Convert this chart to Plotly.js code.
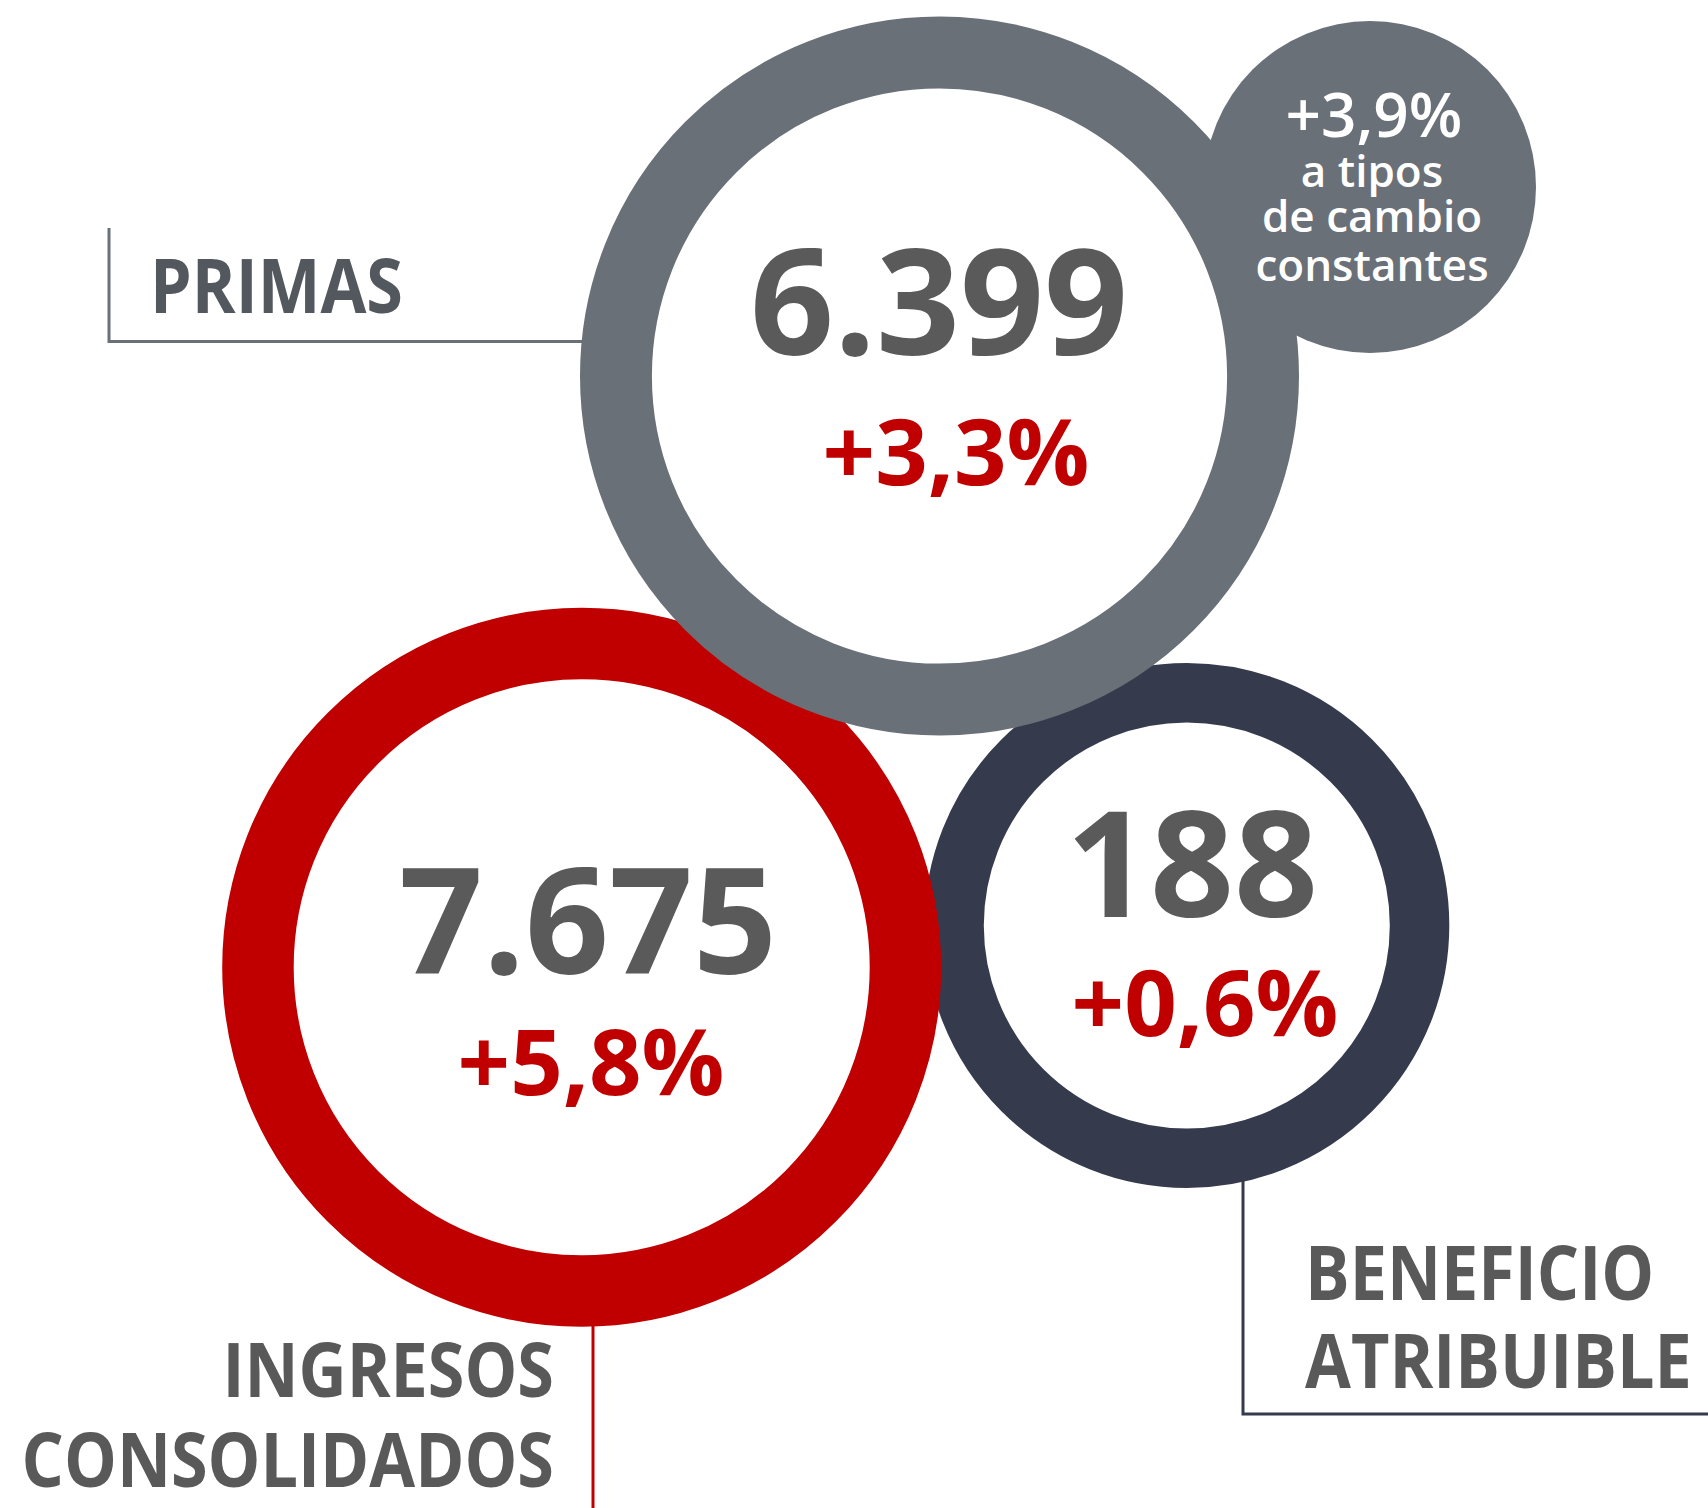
<!DOCTYPE html>
<html>
<head>
<meta charset="utf-8">
<script src="https://cdn.plot.ly/plotly-3.0.1.min.js"></script>
<style>
  html, body { margin: 0; padding: 0; background: #ffffff; overflow: hidden; }
  #chart { width: 1708px; height: 1508px; }
</style>
</head>
<body>
<div id="chart"></div>
<script>
// ---------------- DATA (millones de euros) ----------------
const categories = ['PRIMAS', 'INGRESOS CONSOLIDADOS', 'BENEFICIO ATRIBUIBLE'];
const values = [6399, 7675, 188];
const changes = [3.3, 5.8, 0.6];
const constantFxChange = 3.9;
const constantFxNote = ['a tipos', 'de cambio', 'constantes'];

// ---------------- DESIGN (layout of the infographic) ----------------
const W = 1708, H = 1508;
const COL_GREY = '#6a7078', COL_RED = '#c00000', COL_NAVY = '#353a4d';
const TXT_GREY = '#5a5a5a';
const LABEL_FONT = 'Open Sans, sans-serif';
const LABEL_CONDENSE = 0.875;
const NUM_FONT = 'Open Sans, sans-serif';

const design = [
  { // PRIMAS
    ring: {cx: 939.5, cy: 376, ro: 359.5, ri: 287.6, color: COL_GREY},
    value: {x: 939, base: 355},
    change: {x: 956, base: 485},
    label: {pos: 'middle right', x: 150, bases: [313], color: '#53575e'},
    leader: {path: [[109, 228], [109, 341.5], [640, 341.5]], color: COL_GREY}
  },
  { // INGRESOS CONSOLIDADOS
    ring: {cx: 581.7, cy: 967.3, ro: 359.5, ri: 288, color: COL_RED},
    value: {x: 588, base: 974},
    change: {x: 591, base: 1095},
    label: {pos: 'middle left', x: 554, bases: [1397, 1487], color: '#595959'},
    leader: {path: [[593, 1290], [593, 1510]], color: COL_RED}
  },
  { // BENEFICIO ATRIBUIBLE
    ring: {cx: 1186.8, cy: 925.4, ro: 262.5, ri: 203, color: COL_NAVY},
    value: {x: 1192, base: 917},
    change: {x: 1205, base: 1036},
    label: {pos: 'middle right', x: 1305, bases: [1300, 1388], color: '#595959'},
    leader: {path: [[1243, 1150], [1243, 1414], [1712, 1414]], color: COL_NAVY}
  }
];
const bubble = {cx: 1370, cy: 187, r: 166, color: COL_GREY};
const ringOrder = [2, 1, 0]; // navy below, red, grey on top

// ---------------- helpers ----------------
function fmtInt(v) { return String(v).replace(/\B(?=(\d{3})+(?!\d))/g, '.'); }
function fmtPct(v) { return (v >= 0 ? '+' : '') + v.toFixed(1).replace('.', ',') + '%'; }
// scatter 'middle' text: baseline sits 0.25*fontsize below the point
function yFromBase(base, fs) { return base - 0.25 * fs; }

function textTrace(xs, ys, texts, fs, color, family, weight, pos) {
  return {
    type: 'scatter', mode: 'text', x: xs, y: ys, text: texts,
    textposition: pos, cliponaxis: false, hoverinfo: 'skip', showlegend: false,
    textfont: {family: family, size: fs, color: color, weight: weight}
  };
}

// ---------------- shapes ----------------
const shapes = [];
function pathStr(pts) { return pts.map((p, i) => (i ? 'L' : 'M') + p[0] + ',' + p[1]).join(' '); }

design.forEach(d => shapes.push({
  type: 'path', xref: 'x', yref: 'y', layer: 'below', path: pathStr(d.leader.path),
  line: {color: d.leader.color, width: 3}, fillcolor: 'rgba(0,0,0,0)'
}));
ringOrder.forEach(i => {
  const r = design[i].ring;
  const rm = (r.ro + r.ri) / 2;
  if (i === 0) {
    shapes.push({type: 'circle', xref: 'x', yref: 'y', layer: 'below',
      x0: bubble.cx - bubble.r, x1: bubble.cx + bubble.r,
      y0: bubble.cy - bubble.r, y1: bubble.cy + bubble.r,
      fillcolor: bubble.color, line: {width: 0}});
  }
  shapes.push({type: 'circle', xref: 'x', yref: 'y', layer: 'below',
    x0: r.cx - rm, x1: r.cx + rm, y0: r.cy - rm, y1: r.cy + rm,
    fillcolor: 'rgba(0,0,0,0)', line: {color: r.color, width: r.ro - r.ri}});
});

// ---------------- text traces ----------------
const traces = [];
const FS_VAL = 147, FS_CHG = 92, FS_LAB = 76;

traces.push(textTrace(design.map(d => d.value.x), design.map(d => yFromBase(d.value.base, FS_VAL)),
  values.map(fmtInt), FS_VAL, TXT_GREY, NUM_FONT, 700, 'middle center'));
traces.push(textTrace(design.map(d => d.change.x), design.map(d => yFromBase(d.change.base, FS_CHG)),
  changes.map(fmtPct), FS_CHG, COL_RED, NUM_FONT, 700, 'middle center'));

const labelTraceIdx = [];
categories.forEach((c, i) => {
  const lines = c.split(' ');
  const L = design[i].label;
  labelTraceIdx.push(traces.length);
  traces.push(textTrace(lines.map(() => L.x), lines.map((_, k) => yFromBase(L.bases[k], FS_LAB)),
    lines, FS_LAB, L.color, LABEL_FONT, 700, L.pos));
});

const FS_FX = 62, FS_NOTE = 44;
traces.push(textTrace([1374], [yFromBase(137, FS_FX)], [fmtPct(constantFxChange)],
  FS_FX, '#ffffff', NUM_FONT, 600, 'middle center'));
const noteBases = [187, 232, 281];
traces.push(textTrace(constantFxNote.map(() => 1372), constantFxNote.map((_, k) => yFromBase(noteBases[k], FS_NOTE)),
  constantFxNote, FS_NOTE, '#ffffff', NUM_FONT, 600, 'middle center'));

const layout = {
  width: W, height: H,
  margin: {l: 0, r: 0, t: 0, b: 0, pad: 0},
  paper_bgcolor: '#ffffff', plot_bgcolor: '#ffffff',
  xaxis: {range: [0, W], visible: false, fixedrange: true, showgrid: false, zeroline: false},
  yaxis: {range: [H, 0], visible: false, fixedrange: true, showgrid: false, zeroline: false},
  showlegend: false,
  shapes: shapes
};

Plotly.newPlot('chart', traces, layout, {displayModeBar: false, staticPlot: true}).then(gd => {
  // labels use a condensed setting of the face, as in the original artwork
  const traceGroups = gd.querySelectorAll('.scatterlayer .trace');
  labelTraceIdx.forEach(ti => {
    const g = traceGroups[ti];
    if (!g) return;
    g.querySelectorAll('text').forEach(t => {
      const w = t.getComputedTextLength();
      t.setAttribute('textLength', (w * LABEL_CONDENSE).toFixed(1));
      t.setAttribute('lengthAdjust', 'spacingAndGlyphs');
    });
  });
});
</script>
</body>
</html>
